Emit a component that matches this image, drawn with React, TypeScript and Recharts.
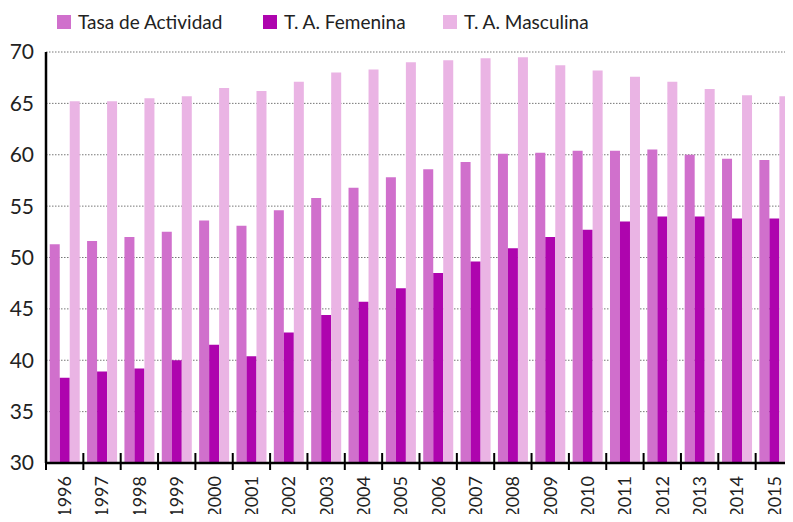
import React from "react";
import { BarChart, Bar, XAxis, YAxis, CartesianGrid, Legend } from "recharts";

const years = ["1996","1997","1998","1999","2000","2001","2002","2003","2004","2005","2006","2007","2008","2009","2010","2011","2012","2013","2014","2015"];
const tasaActividad = [51.3,51.6,52.0,52.5,53.6,53.1,54.6,55.8,56.8,57.8,58.6,59.3,60.1,60.2,60.4,60.4,60.5,60.0,59.6,59.5];
const taFemenina = [38.3,38.9,39.2,40.0,41.5,40.4,42.7,44.4,45.7,47.0,48.5,49.6,50.9,52.0,52.7,53.5,54.0,54.0,53.8,53.8];
const taMasculina = [65.2,65.2,65.5,65.7,66.5,66.2,67.1,68.0,68.3,69.0,69.2,69.4,69.5,68.7,68.2,67.6,67.1,66.4,65.8,65.7];
const yTicks = [30,35,40,45,50,55,60,65,70];

const seriesNames = ["Tasa de Actividad", "T. A. Femenina", "T. A. Masculina"];
const colors = ["#D070CC", "#AE04AE", "#EAB4E4"];

const data = years.map((y, i) => ({
  year: y,
  tasa: tasaActividad[i],
  fem: taFemenina[i],
  masc: taMasculina[i],
}));

const W = 793;
const H = 522;
const LEFT = 46;
const RIGHT = 0;
const TOP = 52;
const XAXIS_H = 59;
const BAND = (W - LEFT - RIGHT) / years.length;
const FONT = "Lato, 'Open Sans', sans-serif";
const TEXT = "#222";

const XTick = (props: any) => {
  const { x, y, payload } = props;
  const bx = x - BAND / 2;
  return (
    <g>
      <line x1={bx} x2={bx} y1={y - 10} y2={y + 7} stroke="#000" strokeWidth={2} />
      <text
        x={x}
        y={y + 13}
        transform={`rotate(-90, ${x}, ${y + 13})`}
        textAnchor="end"
        dy="0.36em"
        fontSize={18}
        fill={TEXT}
        fontFamily={FONT}
      >
        {payload.value}
      </text>
    </g>
  );
};

const legendLefts = [57, 263, 443];

const LegendContent = () => (
  <div style={{ position: "relative", width: W, height: 40 }}>
    {seriesNames.map((n, i) => (
      <div
        key={n}
        style={{
          position: "absolute",
          left: legendLefts[i],
          top: 10,
          display: "flex",
          alignItems: "center",
          fontFamily: FONT,
          fontSize: 19,
          color: TEXT,
          whiteSpace: "nowrap",
        }}
      >
        <span style={{ display: "inline-block", width: 14, height: 14, background: colors[i], marginRight: 7 }} />
        <span>{n}</span>
      </div>
    ))}
  </div>
);

export default function App() {
  return (
    <div style={{ margin: -8, width: W, height: H, overflow: "hidden" }}>
      <BarChart
        width={W}
        height={H}
        data={data}
        margin={{ top: TOP, right: RIGHT, bottom: 0, left: 0 }}
        barCategoryGap="10%"
        barGap={0}
      >
        <CartesianGrid vertical={false} stroke="#777" strokeDasharray="1.5 1.5" />
        <XAxis
          dataKey="year"
          height={XAXIS_H}
          tickLine={false}
          tickSize={0}
          tickMargin={0}
          axisLine={{ stroke: "#000", strokeWidth: 2.5 }}
          tick={<XTick />}
          interval={0}
        />
        <YAxis
          width={LEFT}
          domain={[30, 70]}
          ticks={yTicks}
          allowDataOverflow
          tickLine={false}
          axisLine={{ stroke: "#000", strokeWidth: 2.5 }}
          tick={{ fontSize: 21, fill: TEXT, fontFamily: FONT }}
          tickMargin={6}
        />
        <Legend
          verticalAlign="middle"
          align="center"
          layout="horizontal"
          content={<LegendContent />}
          wrapperStyle={{ top: 0, left: 0, width: W }}
        />
        <Bar dataKey="tasa" name={seriesNames[0]} fill={colors[0]} isAnimationActive={false} />
        <Bar dataKey="fem" name={seriesNames[1]} fill={colors[1]} isAnimationActive={false} />
        <Bar dataKey="masc" name={seriesNames[2]} fill={colors[2]} isAnimationActive={false} />
      </BarChart>
    </div>
  );
}
